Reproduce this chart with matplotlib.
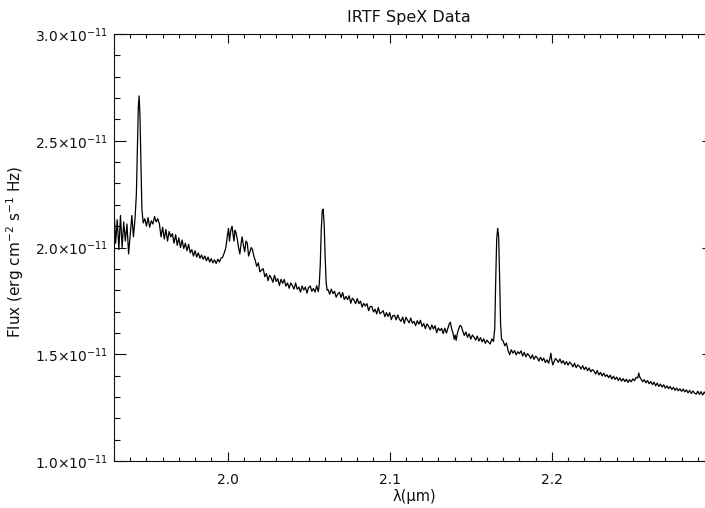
import matplotlib.pyplot as plt
from matplotlib.ticker import MultipleLocator, FuncFormatter

# SpeX spectrum: wavelength in microns, flux in units of 1e-11
wave = [
    1.9300, 1.9310, 1.9320, 1.9330, 1.9340, 1.9350, 1.9360, 1.9370, 1.9380, 1.9390,
    1.9400, 1.9410, 1.9420, 1.9430, 1.9438, 1.9444, 1.9450, 1.9455, 1.9460, 1.9466,
    1.9472, 1.9480, 1.9490, 1.9500, 1.9510, 1.9520, 1.9530, 1.9540, 1.9550, 1.9560,
    1.9570, 1.9580, 1.9590, 1.9600, 1.9610, 1.9620, 1.9630, 1.9640, 1.9650, 1.9660,
    1.9670, 1.9680, 1.9690, 1.9700, 1.9710, 1.9720, 1.9730, 1.9740, 1.9750, 1.9760,
    1.9770, 1.9780, 1.9790, 1.9800, 1.9810, 1.9820, 1.9830, 1.9840, 1.9850, 1.9860,
    1.9870, 1.9880, 1.9890, 1.9900, 1.9910, 1.9920, 1.9930, 1.9940, 1.9950, 1.9960,
    1.9970, 1.9980, 1.9990, 2.0000, 2.0006, 2.0012, 2.0020, 2.0028, 2.0034, 2.0040,
    2.0046, 2.0052, 2.0060, 2.0068, 2.0076, 2.0084, 2.0090, 2.0098, 2.0106, 2.0114,
    2.0122, 2.0130, 2.0138, 2.0146, 2.0154, 2.0162, 2.0170, 2.0180, 2.0190, 2.0200,
    2.0210, 2.0220, 2.0230, 2.0240, 2.0250, 2.0260, 2.0270, 2.0280, 2.0290, 2.0300,
    2.0310, 2.0320, 2.0330, 2.0340, 2.0350, 2.0360, 2.0370, 2.0380, 2.0390, 2.0400,
    2.0410, 2.0420, 2.0430, 2.0440, 2.0450, 2.0460, 2.0470, 2.0480, 2.0490, 2.0500,
    2.0510, 2.0520, 2.0530, 2.0540, 2.0550, 2.0560, 2.0566, 2.0572, 2.0578, 2.0584,
    2.0590, 2.0596, 2.0602, 2.0608, 2.0614, 2.0620, 2.0630, 2.0640, 2.0650, 2.0660,
    2.0670, 2.0680, 2.0690, 2.0700, 2.0710, 2.0720, 2.0730, 2.0740, 2.0750, 2.0760,
    2.0770, 2.0780, 2.0790, 2.0800, 2.0810, 2.0820, 2.0830, 2.0840, 2.0850, 2.0860,
    2.0870, 2.0880, 2.0890, 2.0900, 2.0910, 2.0920, 2.0930, 2.0940, 2.0950, 2.0960,
    2.0970, 2.0980, 2.0990, 2.1000, 2.1010, 2.1020, 2.1030, 2.1040, 2.1050, 2.1060,
    2.1070, 2.1080, 2.1090, 2.1100, 2.1110, 2.1120, 2.1130, 2.1140, 2.1150, 2.1160,
    2.1170, 2.1180, 2.1190, 2.1200, 2.1210, 2.1220, 2.1230, 2.1240, 2.1250, 2.1260,
    2.1270, 2.1280, 2.1290, 2.1300, 2.1310, 2.1320, 2.1330, 2.1340, 2.1350, 2.1366,
    2.1374, 2.1382, 2.1390, 2.1398, 2.1404, 2.1410, 2.1418, 2.1426, 2.1434, 2.1442,
    2.1450, 2.1460, 2.1470, 2.1480, 2.1490, 2.1500, 2.1510, 2.1520, 2.1530, 2.1540,
    2.1550, 2.1560, 2.1570, 2.1580, 2.1590, 2.1600, 2.1610, 2.1620, 2.1630, 2.1640,
    2.1648, 2.1654, 2.1660, 2.1666, 2.1672, 2.1678, 2.1684, 2.1690, 2.1700, 2.1710,
    2.1720, 2.1730, 2.1740, 2.1750, 2.1760, 2.1770, 2.1780, 2.1790, 2.1800, 2.1810,
    2.1820, 2.1830, 2.1840, 2.1850, 2.1860, 2.1870, 2.1880, 2.1890, 2.1900, 2.1910,
    2.1920, 2.1930, 2.1940, 2.1950, 2.1960, 2.1970, 2.1980, 2.1988, 2.1994, 2.2000,
    2.2006, 2.2014, 2.2022, 2.2030, 2.2040, 2.2050, 2.2060, 2.2070, 2.2080, 2.2090,
    2.2100, 2.2110, 2.2120, 2.2130, 2.2140, 2.2150, 2.2160, 2.2170, 2.2180, 2.2190,
    2.2200, 2.2210, 2.2220, 2.2230, 2.2240, 2.2250, 2.2260, 2.2270, 2.2280, 2.2290,
    2.2300, 2.2310, 2.2320, 2.2330, 2.2340, 2.2350, 2.2360, 2.2370, 2.2380, 2.2390,
    2.2400, 2.2410, 2.2420, 2.2430, 2.2440, 2.2450, 2.2460, 2.2470, 2.2480, 2.2490,
    2.2500, 2.2510, 2.2520, 2.2530, 2.2536, 2.2542, 2.2550, 2.2560, 2.2570, 2.2580,
    2.2590, 2.2600, 2.2610, 2.2620, 2.2630, 2.2640, 2.2650, 2.2660, 2.2670, 2.2680,
    2.2690, 2.2700, 2.2710, 2.2720, 2.2730, 2.2740, 2.2750, 2.2760, 2.2770, 2.2780,
    2.2790, 2.2800, 2.2810, 2.2820, 2.2830, 2.2840, 2.2850, 2.2860, 2.2870, 2.2880,
    2.2890, 2.2900, 2.2910, 2.2920, 2.2930, 2.2940, 2.2950, 2.2960, 2.2970, 2.2980,
    2.2990, 2.3000,
]
flux = [
    2.18, 2.02, 2.13, 1.99, 2.15, 2.00, 2.12, 2.03, 2.11, 1.97,
    2.06, 2.15, 2.05, 2.14, 2.25, 2.45, 2.66, 2.71, 2.62, 2.40,
    2.18, 2.115, 2.135, 2.100, 2.140, 2.095, 2.125, 2.110, 2.145, 2.120,
    2.135, 2.110, 2.050, 2.095, 2.040, 2.085, 2.030, 2.075, 2.050, 2.065,
    2.020, 2.060, 2.010, 2.045, 2.000, 2.035, 1.995, 2.020, 1.985, 2.015,
    1.975, 1.990, 1.960, 1.985, 1.955, 1.975, 1.950, 1.965, 1.945, 1.960,
    1.938, 1.955, 1.932, 1.948, 1.928, 1.942, 1.925, 1.945, 1.932, 1.950,
    1.955, 1.975, 2.00, 2.06, 2.09, 2.03, 2.08, 2.10, 2.06, 2.03,
    2.08, 2.07, 2.04, 2.00, 1.97, 2.02, 2.05, 2.01, 1.98, 2.03,
    2.02, 1.96, 1.98, 2.00, 1.99, 1.96, 1.942, 1.912, 1.928, 1.886,
    1.894, 1.901, 1.863, 1.878, 1.845, 1.870, 1.857, 1.837, 1.870, 1.841,
    1.854, 1.822, 1.851, 1.832, 1.850, 1.819, 1.834, 1.809, 1.834, 1.821,
    1.805, 1.834, 1.804, 1.815, 1.791, 1.820, 1.801, 1.815, 1.786, 1.813,
    1.820, 1.795, 1.808, 1.791, 1.821, 1.793, 1.83, 1.92, 2.08, 2.17,
    2.18, 2.11, 1.96, 1.84, 1.80, 1.803, 1.781, 1.805, 1.784, 1.795,
    1.767, 1.783, 1.790, 1.766, 1.789, 1.756, 1.771, 1.756, 1.774, 1.739,
    1.763, 1.753, 1.737, 1.761, 1.737, 1.749, 1.721, 1.738, 1.726, 1.737,
    1.704, 1.723, 1.724, 1.698, 1.711, 1.689, 1.719, 1.690, 1.696, 1.704,
    1.676, 1.695, 1.677, 1.695, 1.662, 1.681, 1.682, 1.661, 1.684, 1.664,
    1.654, 1.674, 1.644, 1.673, 1.660, 1.647, 1.670, 1.645, 1.654, 1.634,
    1.657, 1.641, 1.659, 1.630, 1.644, 1.620, 1.642, 1.631, 1.615, 1.637,
    1.618, 1.634, 1.601, 1.623, 1.611, 1.621, 1.597, 1.622, 1.599, 1.64,
    1.65, 1.62, 1.60, 1.57, 1.59, 1.565, 1.60, 1.62, 1.635, 1.63,
    1.61, 1.588, 1.604, 1.579, 1.596, 1.571, 1.590, 1.580, 1.566, 1.585,
    1.562, 1.578, 1.558, 1.572, 1.551, 1.566, 1.556, 1.548, 1.572, 1.560,
    1.62, 1.85, 2.04, 2.09, 2.05, 1.86, 1.64, 1.57, 1.562, 1.540,
    1.552, 1.518, 1.498, 1.521, 1.505, 1.517, 1.497, 1.512, 1.503, 1.516,
    1.492, 1.509, 1.488, 1.503, 1.494, 1.480, 1.497, 1.476, 1.491, 1.484,
    1.468, 1.486, 1.470, 1.482, 1.461, 1.474, 1.458, 1.48, 1.505, 1.47,
    1.45, 1.465, 1.48, 1.474, 1.462, 1.478, 1.458, 1.470, 1.452, 1.466,
    1.449, 1.463, 1.455, 1.441, 1.458, 1.437, 1.450, 1.444, 1.431, 1.447,
    1.428, 1.440, 1.423, 1.436, 1.418, 1.428, 1.421, 1.407, 1.424, 1.403,
    1.415, 1.398, 1.411, 1.396, 1.404, 1.390, 1.402, 1.384, 1.397, 1.382,
    1.393, 1.377, 1.389, 1.374, 1.386, 1.372, 1.383, 1.368, 1.381, 1.371,
    1.385, 1.376, 1.392, 1.389, 1.412, 1.393, 1.384, 1.371, 1.381, 1.366,
    1.377, 1.362, 1.372, 1.358, 1.369, 1.352, 1.365, 1.349, 1.360, 1.346,
    1.357, 1.341, 1.352, 1.339, 1.349, 1.335, 1.345, 1.331, 1.342, 1.329,
    1.338, 1.326, 1.337, 1.324, 1.333, 1.319, 1.331, 1.316, 1.328, 1.318,
    1.313, 1.327, 1.312, 1.325, 1.309, 1.323, 1.312, 1.321, 1.308, 1.319,
    1.310, 1.316,
]

x_ticks = [2.0, 2.1, 2.2]
y_ticks = [1.0e-11, 1.5e-11, 2.0e-11, 2.5e-11, 3.0e-11]

plt.rcParams['font.family'] = 'DejaVu Sans'
plt.rcParams['mathtext.default'] = 'regular'
ink = '#111111'

fig = plt.figure(figsize=(7.05, 5.08), dpi=100)
# right edge of the plot box runs past the image border
ax = fig.add_axes([114 / 705, 47 / 508, 600 / 705, 427 / 508])

ax.plot(wave, [f * 1e-11 for f in flux], color='black', linewidth=0.9)

ax.set_xlim(1.93, 2.30)
ax.set_ylim(1.0e-11, 3.0e-11)
ax.set_xticks(x_ticks)
ax.set_yticks(y_ticks)
ax.xaxis.set_minor_locator(MultipleLocator(0.01))
ax.yaxis.set_minor_locator(MultipleLocator(0.1e-11))


def sci_label(v, pos):
    return '%.1f×10$^{-11}$' % (v / 1e-11)


ax.yaxis.set_major_formatter(FuncFormatter(sci_label))
ax.xaxis.set_major_formatter(FuncFormatter(lambda v, pos: '%.1f' % v))

for s in ax.spines.values():
    s.set_linewidth(0.8)
    s.set_color(ink)

ax.tick_params(axis='x', which='major', direction='in', top=True, length=6.2,
               width=0.8, pad=9, labelsize=10, colors=ink)
ax.tick_params(axis='x', which='minor', direction='in', top=True, length=3.1,
               width=0.8, colors=ink)
ax.tick_params(axis='y', which='major', direction='in', right=True, length=8.6,
               width=0.8, pad=4, labelsize=10, colors=ink)
ax.tick_params(axis='y', which='minor', direction='in', right=True, length=4.3,
               width=0.8, colors=ink)

ax.set_title('IRTF SpeX Data', fontsize=11.5, color=ink, pad=9, x=0.491)
ax.set_xlabel('λ(μm)', fontsize=10.5, color=ink, labelpad=1)
ax.set_ylabel(r'Flux (erg cm$^{-2}$ s$^{-1}$ Hz)', fontsize=11, color=ink)
ax.yaxis.set_label_coords(-0.147, 0.49)

fig.savefig('out.png', dpi=100)
